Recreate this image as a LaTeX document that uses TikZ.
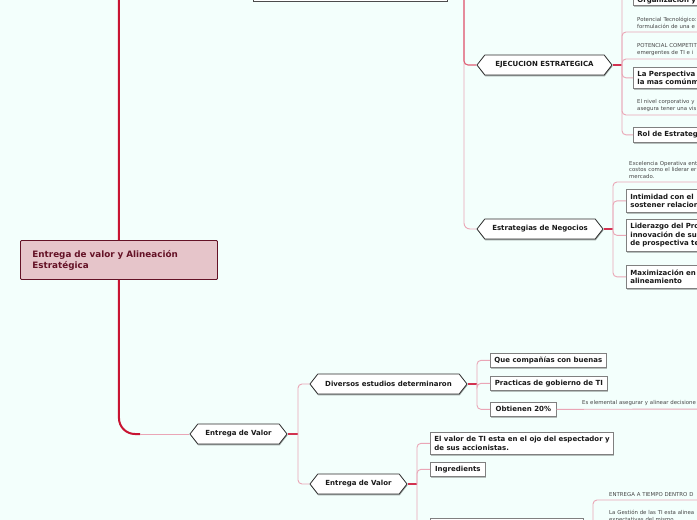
\documentclass[tikz,border=0pt]{standalone}
\usepackage{fontspec}
\setmainfont{DejaVu Sans}
\usetikzlibrary{shapes.symbols,shadows}
\definecolor{mapbg}{RGB}{243,255,252}
\definecolor{trunkred}{RGB}{200,20,50}
\definecolor{redjoin}{RGB}{210,50,80}
\definecolor{midjoin}{RGB}{224,96,118}
\definecolor{pinkjoin}{RGB}{234,166,182}
\definecolor{rootfill}{RGB}{230,197,202}
\definecolor{rootline}{RGB}{100,18,38}
\definecolor{boxgray}{RGB}{128,128,128}
\definecolor{hexline}{RGB}{45,45,45}
\definecolor{inkdark}{RGB}{25,25,25}
\definecolor{notegray}{RGB}{70,70,70}

\begin{document}
\begin{tikzpicture}[x=1pt,y=-1pt,
    every node/.style={text=inkdark},
    rootbox/.style={draw=rootline,fill=rootfill,line width=0.9pt,rounded corners=1pt,text=rootline,
      font=\fontsize{8.8}{11}\selectfont\bfseries,align=left,anchor=north west,
      inner xsep=12pt,text width=173pt,minimum height=39pt},
    hexnode/.style={shape=signal,signal to=east and west,signal pointer angle=104,draw=hexline,fill=white,
      line width=0.8pt,font=\fontsize{7}{8}\selectfont\bfseries,minimum height=20pt,inner sep=0pt,
      drop shadow={shadow xshift=0.5pt,shadow yshift=-1.3pt,fill=black,opacity=0.35}},
    topicbox/.style={draw=boxgray,fill=white,line width=0.7pt,font=\fontsize{7}{8.6}\selectfont\bfseries,
      align=left,anchor=north west,inner xsep=4pt,inner ysep=2pt,
      drop shadow={shadow xshift=0.5pt,shadow yshift=-1.2pt,fill=black,opacity=0.25}},
    notetext/.style={font=\fontsize{5.4}{6.8}\selectfont,text=notegray,align=left,anchor=south west,
      inner xsep=4pt,inner ysep=3pt,text width=140pt},
    trunk/.style={draw=trunkred,line width=2pt},
    linkred/.style={draw=redjoin,line width=1.2pt},
    linkmid/.style={draw=midjoin,line width=1.1pt,rounded corners=4pt},
    linkpink/.style={draw=pinkjoin,line width=0.9pt,rounded corners=4pt}]
  \useasboundingbox (0,0) rectangle (697,520);
  \clip (0,0) rectangle (697,520);
  \fill[mapbg] (0,0) rectangle (697,520);

  \node[draw=hexline!85,fill=white,line width=0.8pt,minimum width=194pt,minimum height=30pt,anchor=south west,
    drop shadow={shadow xshift=0.5pt,shadow yshift=-1.3pt,fill=black,opacity=0.35}] (topnode) at (253,1.5) {};
  \node[rootbox] (root) at (20,240) {Entrega de valor y Alineación\\Estratégica};

  \node[hexnode,minimum width=135pt] (ejec) at (544.5,65) {EJECUCION ESTRATEGICA};
  \node[hexnode,minimum width=126pt] (estr) at (540,229) {Estrategias de Negocios};
  \node[hexnode,minimum width=97pt] (valor1) at (238.5,434) {Entrega de Valor};
  \node[hexnode,minimum width=157pt] (divers) at (388.5,384) {Diversos estudios determinaron};
  \node[hexnode,minimum width=97pt] (valor2) at (358.5,484) {Entrega de Valor};

  \coordinate (trunktop) at (119,-5);
  \coordinate (trunkend) at (140,434);
  \coordinate (jtop) at (464,-13.5);
  \coordinate (jejec) at (622,65);
  \coordinate (jestr) at (613,229);
  \coordinate (jvalor1) at (298,434);
  \coordinate (jdivers) at (477,384);
  \coordinate (jvalor2) at (417,484);
  \coordinate (jtarea) at (593,533);

  \node[topicbox,anchor=south west,text width=120pt,text height=20pt] (organiz) at (633,6) {Organización y};
  \node[notetext] (pottec) at (633,32) {Potencial Tecnológico:\\formulación de una e};
  \node[notetext] (potcomp) at (633,59) {POTENCIAL COMPETIT\\emergentes de TI e i};
  \node[topicbox,text width=120pt,minimum height=21pt] (perspect) at (633,67) {La Perspectiva\\la mas comúnm};
  \node[notetext] (nivel) at (633,115) {El nivel corporativo y\\asegura tener una vis};
  \node[topicbox,text width=120pt,minimum height=15pt] (rolestr) at (633,127) {Rol de Estrateg};

  \node[notetext] (excel) at (625,182) {Excelencia Operativa ent\\costos como el liderar er\\mercado.};
  \node[topicbox,text width=120pt,minimum height=23pt] (intimid) at (626,189) {Intimidad con el\\sostener relacion};
  \node[topicbox,text width=120pt,minimum height=32pt] (lideraz) at (626,219) {Liderazgo del Pro\\innovación de su\\de prospectiva te};
  \node[topicbox,text width=120pt,minimum height=23pt] (maximiz) at (626,265) {Maximización en\\alineamiento};

  \node[topicbox,minimum width=116pt,minimum height=14pt] (quecomp) at (490,353) {Que compañías con buenas};
  \node[topicbox,minimum width=117pt,minimum height=14pt] (practic) at (490,376) {Practicas de gobierno de TI};
  \node[topicbox,minimum width=66pt,minimum height=14pt] (obtien) at (490,402) {Obtienen 20\%};
  \node[notetext] (element) at (578,409) {Es elemental asegurar y alinear decisione};

  \node[topicbox,minimum width=183pt,minimum height=22pt] (ojoesp) at (430,432) {El valor de TI esta en el ojo del espectador y\\de sus accionistas.};
  \node[topicbox,minimum width=55pt,minimum height=14pt] (ingred) at (430,462) {Ingredients};
  \node[topicbox,minimum width=153pt,minimum height=30pt] (tarea) at (430,518) {};
  \node[notetext] (atiempo) at (605,500) {ENTREGA A TIEMPO DENTRO D};
  \node[notetext] (gestion) at (605,526) {La Gestión de las TI esta alinea\\expectativas del mismo};

  \draw[trunk] (root.north) -- (trunktop);
  \draw[trunk,rounded corners=16pt] (root.south) |- (trunkend);
  \draw[linkpink] (trunkend) -- (valor1.west);

  \draw[linkpink,rounded corners=6pt] (jtop) |- (estr.west);
  \draw[linkmid] (topnode.east) -- (jtop) |- (ejec.west);

  \draw[linkred] (ejec.east) -- (jejec);
  \foreach \c in {organiz.west,pottec.south east,potcomp.south east,perspect.west,nivel.south east,rolestr.west}
    \draw[linkpink] (jejec) |- (\c);
  \draw[linkred] (estr.east) -- (jestr);
  \foreach \c in {excel.south east,intimid.west,lideraz.west,maximiz.west}
    \draw[linkpink] (jestr) |- (\c);

  \draw[linkred] (valor1.east) -- (jvalor1);
  \foreach \c in {divers.west,valor2.west}
    \draw[linkpink] (jvalor1) |- (\c);
  \draw[linkred] (divers.east) -- (jdivers);
  \foreach \c in {quecomp.west,practic.west,obtien.west}
    \draw[linkpink] (jdivers) |- (\c);
  \draw[linkpink] (obtien.east) -- (element.south east);
  \draw[linkred] (valor2.east) -- (jvalor2);
  \foreach \c in {ojoesp.west,ingred.west,tarea.west}
    \draw[linkpink] (jvalor2) |- (\c);
  \draw[linkred] (tarea.east) -- (jtarea);
  \foreach \c in {atiempo.south east,gestion.south east}
    \draw[linkpink] (jtarea) |- (\c);
\end{tikzpicture}
\end{document}
